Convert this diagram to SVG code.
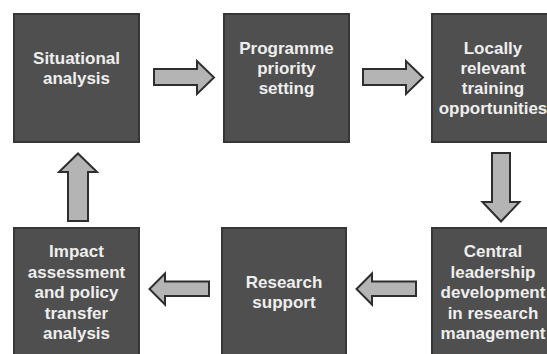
<svg xmlns="http://www.w3.org/2000/svg" width="547" height="354" viewBox="0 0 547 354">
<style>
.box{fill:#4f4f4f;stroke:#363636;stroke-width:2}
.lbl{font-family:"Liberation Sans",Arial,sans-serif;font-weight:bold;font-size:17px;fill:#eeeeee;text-anchor:middle}
.arr{fill:#b4b4b4;stroke:#2e2e2e;stroke-width:2;stroke-linejoin:miter}
</style>
<rect width="547" height="354" fill="#ffffff"/>
<g id="node-situational">
<rect class="box" x="14" y="14" width="125" height="128"/>
<text class="lbl"><tspan x="76.5" y="64">Situational</tspan><tspan x="76.5" y="84">analysis</tspan></text>
</g>
<g id="node-programme">
<rect class="box" x="224" y="14" width="125" height="128"/>
<text class="lbl"><tspan x="286.5" y="54">Programme</tspan><tspan x="286.5" y="74">priority</tspan><tspan x="286.5" y="94">setting</tspan></text>
</g>
<g id="node-training">
<rect class="box" x="432" y="14" width="125" height="128"/>
<text class="lbl"><tspan x="493" y="54">Locally</tspan><tspan x="493" y="74">relevant</tspan><tspan x="493" y="94">training</tspan><tspan x="493" y="114">opportunities</tspan></text>
</g>
<g id="node-impact">
<rect class="box" x="14" y="228" width="125" height="140"/>
<text class="lbl"><tspan x="76.5" y="257">Impact</tspan><tspan x="76.5" y="277.5">assessment</tspan><tspan x="76.5" y="298">and policy</tspan><tspan x="76.5" y="318.5">transfer</tspan><tspan x="76.5" y="339">analysis</tspan></text>
</g>
<g id="node-research">
<rect class="box" x="222" y="228" width="124" height="140"/>
<text class="lbl"><tspan x="284" y="288">Research</tspan><tspan x="284" y="308">support</tspan></text>
</g>
<g id="node-central">
<rect class="box" x="432" y="228" width="125" height="140"/>
<text class="lbl"><tspan x="493" y="257">Central</tspan><tspan x="493" y="277.5">leadership</tspan><tspan x="493" y="298">development</tspan><tspan x="493" y="318.5">in research</tspan><tspan x="493" y="339">management</tspan></text>
</g>
<g id="connectors">
<path class="arr" d="M154,69 H197 V61 L214,77.5 L197,94 V85 H154 Z"/>
<path class="arr" d="M363,69 H406 V61 L423,77.5 L406,94 V85 H363 Z"/>
<path class="arr" d="M492,153 H510 V202 H519.5 L501,221.5 L482.5,202 H492 Z"/>
<path class="arr" d="M416,281.5 V296 H372 V304.5 L356.5,289 L372,273.5 V281.5 Z"/>
<path class="arr" d="M209,281.5 V296 H165 V304.5 L149.5,289 L165,273.5 V281.5 Z"/>
<path class="arr" d="M78,153.5 L97,172 H88 V221 H68 V172 H59 Z"/>
</g>
</svg>
